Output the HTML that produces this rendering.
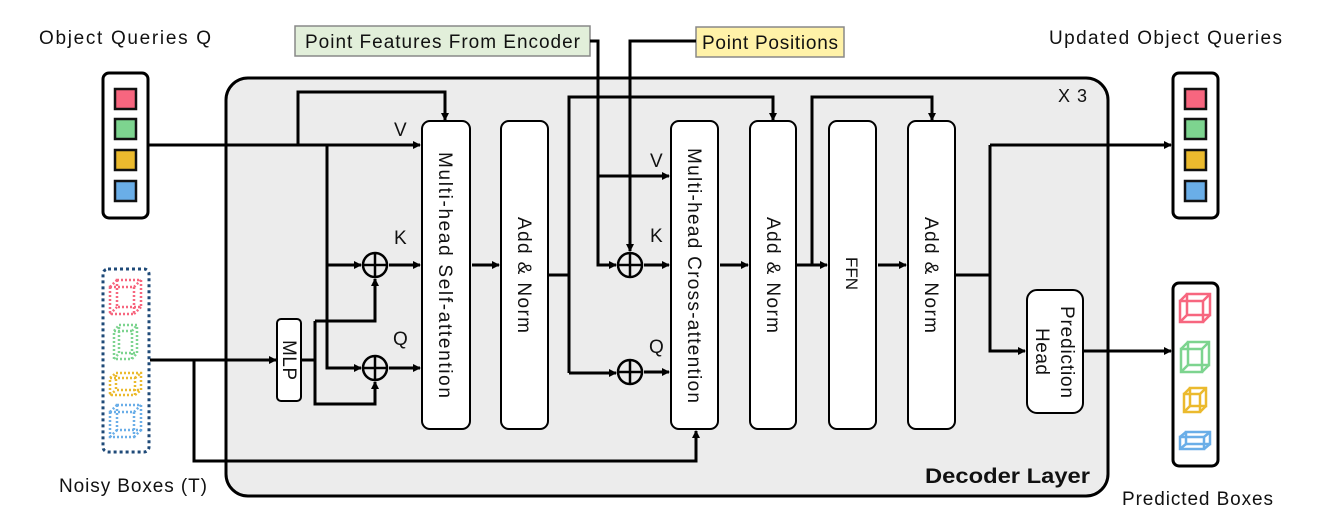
<!DOCTYPE html>
<html><head><meta charset="utf-8"><style>
html,body{margin:0;padding:0;background:#fff}
svg{display:block}
text{font-family:"Liberation Sans",sans-serif;fill:#111}
</style></head><body>
<svg width="1329" height="526" viewBox="0 0 1329 526" xmlns="http://www.w3.org/2000/svg">
<defs>
<marker id="a" markerWidth="8" markerHeight="8" refX="7" refY="4" orient="auto" markerUnits="userSpaceOnUse">
<path d="M0,0 L8,4 L0,8 z" fill="#000"/></marker>
</defs>
<rect x="226" y="78" width="882" height="418" rx="22" fill="#ececec" stroke="#000" stroke-width="3"/>
<text x="1058" y="102" font-size="18" textLength="29" lengthAdjust="spacing">X 3</text>
<text x="925" y="483" font-size="21" font-weight="bold" textLength="165" lengthAdjust="spacingAndGlyphs">Decoder Layer</text>

<text x="39" y="44" font-size="19" textLength="172" lengthAdjust="spacing">Object Queries Q</text>
<text x="59" y="492" font-size="19" textLength="148" lengthAdjust="spacing">Noisy Boxes (T)</text>
<text x="1049" y="44" font-size="19" textLength="233" lengthAdjust="spacing">Updated Object Queries</text>
<text x="1122" y="505" font-size="19" textLength="151" lengthAdjust="spacing">Predicted Boxes</text>
<rect x="295" y="26" width="295" height="30" fill="#e2efda" stroke="#888" stroke-width="1.5"/>
<text x="305" y="48" font-size="19" textLength="275" lengthAdjust="spacing">Point Features From Encoder</text>
<rect x="696" y="27" width="148" height="30" fill="#fff2a8" stroke="#888" stroke-width="1.5"/>
<text x="702" y="49" font-size="19" textLength="136" lengthAdjust="spacing">Point Positions</text>

<g stroke="#000" stroke-width="3">
<rect x="103" y="73" width="45" height="145" rx="6" fill="#fff"/>
<rect x="1173" y="73" width="45" height="145" rx="6" fill="#fff"/>
<rect x="1173" y="283" width="45" height="183" rx="6" fill="#fff"/>
</g>
<g stroke="#111" stroke-width="2.5">
<rect x="115" y="89" width="21" height="20" fill="#f7667f"/>
<rect x="115" y="119" width="21" height="20" fill="#7dd48f"/>
<rect x="115" y="150" width="21" height="20" fill="#ebba2e"/>
<rect x="115" y="181" width="21" height="20" fill="#6aaee8"/>
<rect x="1185" y="89" width="21" height="20" fill="#f7667f"/>
<rect x="1185" y="119" width="21" height="20" fill="#7dd48f"/>
<rect x="1185" y="150" width="21" height="20" fill="#ebba2e"/>
<rect x="1185" y="181" width="21" height="20" fill="#6aaee8"/>
</g>
<rect x="103" y="269" width="46" height="183" rx="5" fill="none" stroke="#1f4a78" stroke-width="3" stroke-dasharray="3,3"/>

<g fill="none" stroke-width="2.5">
<g stroke="#f7667f" stroke-dasharray="2,2"><rect x="110" y="287" width="24" height="27"/><rect x="117" y="280" width="24" height="27"/><path d="M110,287L117,280M134,287L141,280M110,314L117,307M134,314L141,307"/></g>
<g stroke="#7dd48f" stroke-dasharray="2,2"><rect x="114" y="331" width="18" height="28"/><rect x="119" y="325" width="18" height="28"/><path d="M114,331L119,325M132,331L137,325M114,359L119,353M132,359L137,353"/></g>
<g stroke="#ebba2e" stroke-dasharray="2,2"><rect x="110" y="378" width="25" height="17"/><rect x="116" y="373" width="25" height="17"/><path d="M110,378L116,373M135,378L141,373M110,395L116,390M135,395L141,390"/></g>
<g stroke="#6aaee8" stroke-dasharray="2,2"><rect x="110" y="412" width="24" height="25"/><rect x="117" y="405" width="24" height="25"/><path d="M110,412L117,405M134,412L141,405M110,437L117,430M134,437L141,430"/></g>
<g stroke="#f7667f"><rect x="1180" y="301" width="23" height="21"/><rect x="1187" y="294" width="23" height="21"/><path d="M1180,301L1187,294M1203,301L1210,294M1180,322L1187,315M1203,322L1210,315"/></g>
<g stroke="#7dd48f"><rect x="1181" y="349" width="21" height="23"/><rect x="1188" y="342" width="21" height="23"/><path d="M1181,349L1188,342M1202,349L1209,342M1181,372L1188,365M1202,372L1209,365"/></g>
<g stroke="#ebba2e"><rect x="1184" y="394" width="16" height="18"/><rect x="1190" y="388" width="16" height="18"/><path d="M1184,394L1190,388M1200,394L1206,388M1184,412L1190,406M1200,412L1206,406"/></g>
<g stroke="#6aaee8"><rect x="1180" y="437" width="24" height="12"/><rect x="1186" y="432" width="24" height="12"/><path d="M1180,437L1186,432M1204,437L1210,432M1180,449L1186,444M1204,449L1210,444"/></g>
</g>

<g fill="#fff" stroke="#000" stroke-width="2">
<rect x="422" y="121" width="48" height="308" rx="8"/>
<rect x="501" y="121" width="47" height="308" rx="8"/>
<rect x="671" y="121" width="47" height="308" rx="8"/>
<rect x="750" y="121" width="46" height="308" rx="8"/>
<rect x="829" y="121" width="47" height="308" rx="8"/>
<rect x="908" y="121" width="47" height="308" rx="8"/>
<rect x="1027" y="290" width="56" height="123" rx="10"/>
<rect x="277" y="319" width="24" height="82" rx="4"/>
</g>
<g font-size="19">
<text transform="translate(439,152) rotate(90)" textLength="246" lengthAdjust="spacing">Multi-head Self-attention</text>
<text transform="translate(518,217) rotate(90)" textLength="116" lengthAdjust="spacing">Add &amp; Norm</text>
<text transform="translate(688,148) rotate(90)" textLength="255" lengthAdjust="spacing">Multi-head Cross-attention</text>
<text transform="translate(767,217) rotate(90)" textLength="116" lengthAdjust="spacing">Add &amp; Norm</text>
<text transform="translate(846,257) rotate(90)" font-size="17">FFN</text>
<text transform="translate(925,217) rotate(90)" textLength="116" lengthAdjust="spacing">Add &amp; Norm</text>
<text transform="translate(1061,306) rotate(90)" textLength="92" lengthAdjust="spacing">Prediction</text>
<text transform="translate(1036,328) rotate(90)" textLength="47" lengthAdjust="spacing">Head</text>
<text transform="translate(283,340) rotate(90)" textLength="40" lengthAdjust="spacing">MLP</text>
<text x="394" y="136">V</text><text x="394" y="244">K</text><text x="393" y="345">Q</text>
<text x="650" y="167">V</text><text x="650" y="242">K</text><text x="649" y="353">Q</text>
</g>

<g fill="none" stroke="#000" stroke-width="2.5">
<circle cx="375" cy="265" r="12"/><path d="M363,265H387M375,253V277"/>
<circle cx="375" cy="368" r="12"/><path d="M363,368H387M375,356V380"/>
<circle cx="630" cy="265" r="12"/><path d="M618,265H642M630,253V277"/>
<circle cx="630" cy="372" r="12"/><path d="M618,372H642M630,360V384"/>
</g>

<g fill="none" stroke="#000" stroke-width="3" stroke-linejoin="miter">
<path d="M148,145H420" marker-end="url(#a)"/>
<path d="M298,145V92H445V120" marker-end="url(#a)"/>
<path d="M327,145V368H361" marker-end="url(#a)"/>
<path d="M327,265H361" marker-end="url(#a)"/>
<path d="M389,265H420" marker-end="url(#a)"/>
<path d="M389,368H420" marker-end="url(#a)"/>
<path d="M150,360H276" marker-end="url(#a)"/>
<path d="M194,360V461H696V431" marker-end="url(#a)"/>
<path d="M301,360H315"/>
<path d="M315,321V404H375V382" marker-end="url(#a)"/>
<path d="M315,321H375V279" marker-end="url(#a)"/>
<path d="M472,265H499" marker-end="url(#a)"/>
<path d="M548,275H569"/>
<path d="M569,373V97H773V120" marker-end="url(#a)"/>
<path d="M569,373H616" marker-end="url(#a)"/>
<path d="M590,41H598V265H616" marker-end="url(#a)"/>
<path d="M598,176H669" marker-end="url(#a)"/>
<path d="M696,41H630V251" marker-end="url(#a)"/>
<path d="M644,265H669" marker-end="url(#a)"/>
<path d="M644,372H669" marker-end="url(#a)"/>
<path d="M720,265H748" marker-end="url(#a)"/>
<path d="M796,265H827" marker-end="url(#a)"/>
<path d="M812,265V97H932V120" marker-end="url(#a)"/>
<path d="M878,265H906" marker-end="url(#a)"/>
<path d="M955,275H990"/>
<path d="M990,145V351H1025" marker-end="url(#a)"/>
<path d="M990,145H1171" marker-end="url(#a)"/>
<path d="M1083,351H1171" marker-end="url(#a)"/>
</g>
</svg>
</body></html>
